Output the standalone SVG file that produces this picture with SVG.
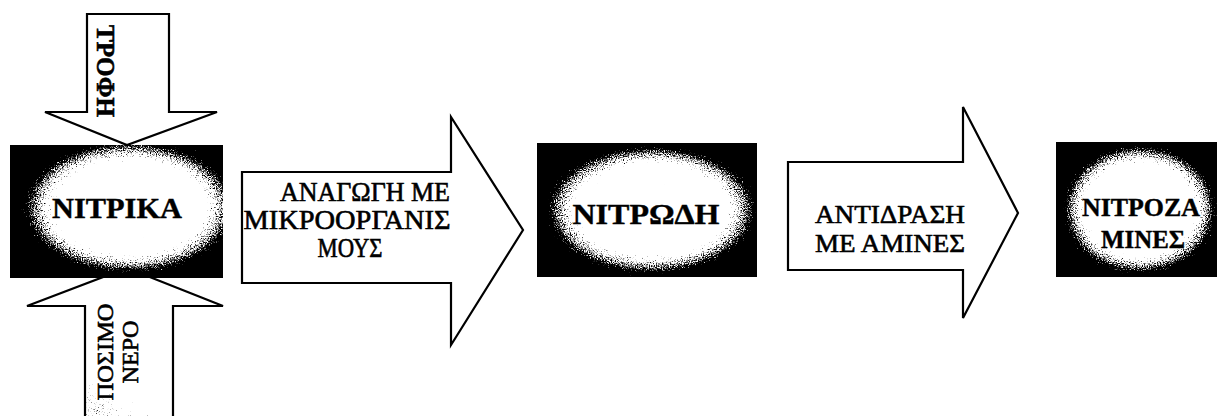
<svg xmlns="http://www.w3.org/2000/svg" width="1219" height="416" viewBox="0 0 1219 416">
  <style>
    .arrow { fill: #ffffff; stroke: #000000; stroke-width: 2.2; stroke-linejoin: miter; }
    .open { fill: none; stroke: #000000; stroke-width: 2.2; }
    .node { font-family: "Liberation Serif", "DejaVu Serif", serif; font-weight: bold; fill: #000; text-anchor: middle; stroke: #000; stroke-width: 0.4; }
    .lbl { font-family: "Liberation Serif", "DejaVu Serif", serif; fill: #000; text-anchor: middle; stroke: #000; stroke-width: 0.6; }
  </style>
  <defs>
    <radialGradient id="glow" cx="0.52" cy="0.5" r="0.5">
      <stop offset="0" stop-color="#ffffff"/>
      <stop offset="0.64" stop-color="#ffffff"/>
      <stop offset="0.86" stop-color="#7a7a7a"/>
      <stop offset="1" stop-color="#000000"/>
    </radialGradient>
    <radialGradient id="glowL" cx="0.56" cy="0.47" r="0.52">
      <stop offset="0" stop-color="#ffffff"/>
      <stop offset="0.64" stop-color="#ffffff"/>
      <stop offset="0.86" stop-color="#7a7a7a"/>
      <stop offset="1" stop-color="#000000"/>
    </radialGradient>
    <radialGradient id="smudge" cx="0.05" cy="1" r="0.9">
      <stop offset="0" stop-color="#b0b0b0"/>
      <stop offset="0.6" stop-color="#dedede"/>
      <stop offset="1" stop-color="#ffffff"/>
    </radialGradient>
    <filter id="grain" x="0" y="0" width="1" height="1" color-interpolation-filters="sRGB">
      <feTurbulence type="fractalNoise" baseFrequency="0.85" numOctaves="2" seed="4" result="n"/>
      <feColorMatrix in="n" type="matrix" values="1 0 0 0 0  1 0 0 0 0  1 0 0 0 0  0 0 0 0 1" result="ng"/>
      <feComposite in="SourceGraphic" in2="ng" operator="arithmetic" k1="0" k2="1" k3="1" k4="-0.5" result="sum"/>
      <feComponentTransfer in="sum">
        <feFuncR type="linear" slope="4" intercept="-1.5"/>
        <feFuncG type="linear" slope="4" intercept="-1.5"/>
        <feFuncB type="linear" slope="4" intercept="-1.5"/>
        <feFuncA type="linear" slope="0" intercept="1"/>
      </feComponentTransfer>
    </filter>
  </defs>
  <rect width="1219" height="416" fill="#ffffff"/>

  <g id="node-nitrika">
    <rect x="10" y="145" width="213" height="133" fill="url(#glowL)" filter="url(#grain)"/>
    <text class="node" x="117" y="218" font-size="29" textLength="130" lengthAdjust="spacingAndGlyphs">ΝΙΤΡΙΚΑ</text>
  </g>
  <g id="node-nitrodi">
    <rect x="537" y="143" width="220" height="134" fill="url(#glow)" filter="url(#grain)"/>
    <text class="node" x="646" y="224" font-size="30" textLength="147" lengthAdjust="spacingAndGlyphs">ΝΙΤΡΩΔΗ</text>
  </g>
  <g id="node-nitrozamines">
    <rect x="1056" y="142" width="161" height="135" fill="url(#glow)" filter="url(#grain)"/>
    <text class="node" x="1141" y="216" font-size="26" textLength="118" lengthAdjust="spacingAndGlyphs">ΝΙΤΡΟΖΑ</text>
    <text class="node" x="1143" y="248" font-size="26" textLength="84" lengthAdjust="spacingAndGlyphs">ΜΙΝΕΣ</text>
  </g>

  <g id="connectors">
    <g id="arrow-trofi">
      <polygon class="arrow" points="87,14 169,14 169,112 217,112 127,145 45,112 87,112"/>
      <text class="lbl" font-weight="bold" font-size="25" transform="translate(97,71) rotate(90)" x="0" y="0" textLength="92" lengthAdjust="spacingAndGlyphs">ΤΡΟΦΗ</text>
    </g>
    <g id="arrow-nero">
      <rect x="86" y="360" width="86" height="56" fill="url(#smudge)" filter="url(#grain)"/>
      <polygon class="open" points="127,268 223,306 173,306 173,420 85,420 85,306 27,306"/>
      <text class="lbl" font-size="24" transform="translate(113,352) rotate(-90)" x="0" y="0" textLength="97" lengthAdjust="spacingAndGlyphs">ΠΟΣΙΜΟ</text>
      <text class="lbl" font-size="24" transform="translate(138,352) rotate(-90)" x="0" y="0" textLength="63" lengthAdjust="spacingAndGlyphs">ΝΕΡΟ</text>
    </g>
    <g id="arrow-anagogi">
      <polygon class="arrow" points="242,172 451,172 451,117 523,230 451,345 451,283 242,283"/>
      <text class="lbl" font-size="27" x="365" y="201" textLength="170" lengthAdjust="spacingAndGlyphs">ΑΝΑΓΩΓΗ ΜΕ</text>
      <text class="lbl" font-size="27" x="347" y="229" textLength="207" lengthAdjust="spacingAndGlyphs">ΜΙΚΡΟΟΡΓΑΝΙΣ</text>
      <text class="lbl" font-size="27" x="350" y="257" textLength="65" lengthAdjust="spacingAndGlyphs">ΜΟΥΣ</text>
    </g>
    <g id="arrow-antidrasi">
      <polygon class="arrow" points="788,162 963,162 963,107 1018,213 963,318 963,270 788,270"/>
      <text class="lbl" font-size="26" x="890" y="223" textLength="150" lengthAdjust="spacingAndGlyphs">ΑΝΤΙΔΡΑΣΗ</text>
      <text class="lbl" font-size="26" x="890" y="252" textLength="150" lengthAdjust="spacingAndGlyphs">ΜΕ ΑΜΙΝΕΣ</text>
    </g>
  </g>
</svg>
